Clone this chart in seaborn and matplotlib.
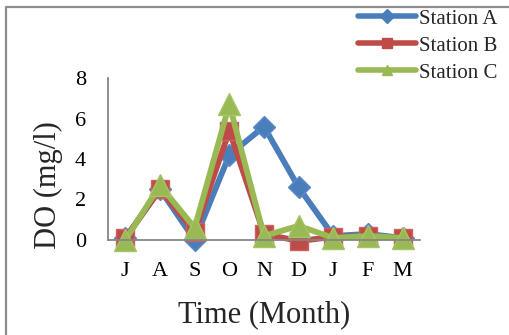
import matplotlib
matplotlib.use("Agg")
import matplotlib.pyplot as plt
import seaborn as sns
import pandas as pd
from matplotlib.lines import Line2D

months = ["J", "A", "S", "O", "N", "D", "J", "F", "M"]
station_a = [0.1, 2.5, 0.0, 4.2, 5.6, 2.6, 0.2, 0.3, 0.1]
station_b = [0.1, 2.5, 0.4, 5.4, 0.3, -0.05, 0.15, 0.2, 0.1]
station_c = [0.0, 2.7, 0.6, 6.7, 0.2, 0.7, 0.1, 0.2, 0.1]
stations = ["Station A", "Station B", "Station C"]
yticks = [0, 2, 4, 6, 8]

series = {"Station A": station_a, "Station B": station_b, "Station C": station_c}
df = pd.DataFrame([
    {"pos": i, "Month": m, "DO": v, "Station": s}
    for s in stations for i, (m, v) in enumerate(zip(months, series[s]))
])

sns.set_theme(style="white")
plt.rcParams["font.family"] = ["Liberation Serif", "DejaVu Serif"]

colors = {"Station A": "#4A7EBB", "Station B": "#BE4B48", "Station C": "#98B954"}
edges = {"Station A": "#5B8ACB", "Station B": "#D0605D", "Station C": "#A6C564"}
markers = {"Station A": "D", "Station B": "s", "Station C": "^"}
msizes = {"Station A": 11.5, "Station B": 13.5, "Station C": 16}

fig = plt.figure(figsize=(5.10, 3.35), dpi=100)
ax = fig.add_axes([108/510, 1-240/335, 312/510, 162/335])

for s in stations:
    sub = df[df["Station"] == s]
    sns.lineplot(data=sub, x="pos", y="DO", ax=ax, color=colors[s], lw=4.2,
                 marker=markers[s], markersize=msizes[s], markerfacecolor=colors[s],
                 markeredgecolor=edges[s], markeredgewidth=1.0, label=s, legend=False)

ax.set_xlim(-0.5, len(months) - 0.5)
ax.set_ylim(0, 8)
ax.set_xticks(range(len(months)))
ax.set_xticklabels(months)
ax.set_yticks(yticks)
ax.tick_params(axis="both", length=0, labelsize=16, colors="black")
ax.tick_params(axis="y", pad=16)
ax.tick_params(axis="x", pad=16)
for sp in ["top", "right"]:
    ax.spines[sp].set_visible(False)
for sp in ["left", "bottom"]:
    ax.spines[sp].set_color("#868686")
    ax.spines[sp].set_linewidth(1.3)
for ln in ax.lines:
    ln.set_clip_on(False)

ax.set_xlabel("Time (Month)", fontsize=22)
ax.set_ylabel("DO (mg/l)", fontsize=22)
ax.xaxis.set_label_coords(0.5, -0.37)
ax.yaxis.set_label_coords(-0.145, 0.34)

handles = [Line2D([], [], color=colors[s], lw=4, marker=markers[s],
                  markersize=7, markerfacecolor=colors[s], markeredgecolor=colors[s])
           for s in stations]
fig.legend(handles, stations, loc="upper left", bbox_to_anchor=(358/510, 1 - 9/335),
           frameon=False, fontsize=15, handlelength=2.8, handletextpad=0.15,
           labelspacing=0.36, borderpad=0, borderaxespad=0)

# outer chart border (left and top)
fig.add_artist(Line2D([6.5/510, 6.5/510, 1.0], [0.0, 1 - 7/335, 1 - 7/335],
                      transform=fig.transFigure, color="#8C8C8C", lw=1.6))

fig.savefig("out.png", dpi=100)
